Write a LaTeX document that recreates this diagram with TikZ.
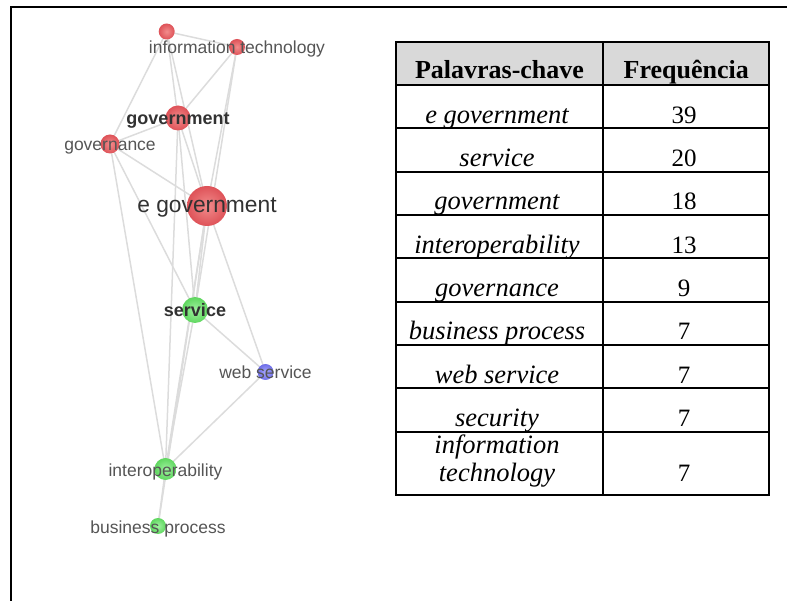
\documentclass[tikz,border=0pt]{standalone}
\usepackage{fontspec}
\setmainfont{Liberation Serif}
\setsansfont{Liberation Sans}
\usetikzlibrary{backgrounds}
\definecolor{edgec}{RGB}{220,220,220}
\definecolor{redin}{RGB}{242,140,140}
\definecolor{redout}{RGB}{222,82,88}
\definecolor{grnin}{RGB}{160,242,160}
\definecolor{grnout}{RGB}{95,215,95}
\definecolor{bluin}{RGB}{170,170,252}
\definecolor{bluout}{RGB}{110,110,232}
\definecolor{lblc}{RGB}{85,85,85}
\definecolor{lbldark}{RGB}{50,50,50}
\definecolor{hdrc}{RGB}{217,217,217}
\begin{document}
\begin{tikzpicture}[x=1pt,y=-1pt,
  vert/.style={circle, inner sep=0pt, minimum size=#1},
  rv/.style={vert=#1, inner color=redin, outer color=redout},
  gv/.style={vert=#1, inner color=grnin, outer color=grnout},
  bv/.style={vert=#1, inner color=bluin, outer color=bluout},
  lblbase/.style={inner sep=0pt, anchor=base, yshift=-7pt},
  lbl/.style={lblbase, text=lblc, font=\sffamily\fontsize{17.5}{20}\selectfont},
  lblb/.style={lblbase, text=lbldark, font=\sffamily\bfseries\fontsize{18}{21}\selectfont},
  lblbig/.style={lblbase, text=lbldark, font=\sffamily\fontsize{22.8}{26}\selectfont},
  edge/.style={draw=edgec, line width=1.5pt},
  cell/.style={anchor=base, inner sep=0pt, font=\fontsize{25}{30}\selectfont},
  kw/.style={cell, font=\fontsize{26.5}{30}\selectfont\itshape},
  hd/.style={anchor=base, inner sep=0pt, font=\fontsize{26}{30}\selectfont\bfseries},
  grid/.style={line width=1.8pt, black}
]
\useasboundingbox (0,0) rectangle (787,601);
% frame
\draw[line width=2.2pt] (787,7) -- (11,7) -- (11,601);

% graph vertices
\node[rv=16] (top) at (166.7,31.5) {};
\node[rv=16] (it) at (237,47) {};
\node[rv=25] (gov) at (178,118) {};
\node[rv=19] (gvnc) at (110,144) {};
\node[rv=40] (egov) at (207,206) {};
\node[gv=26] (serv) at (195,310) {};
\node[bv=16] (web) at (265.5,372) {};
\node[gv=22] (inter) at (165.5,469) {};
\node[gv=16] (bp) at (158,526) {};

\begin{scope}[on background layer]
\foreach \a/\b in {top/it, top/gvnc, top/gov, top/egov, it/gov, it/egov, it/serv,
  gvnc/gov, gvnc/egov, gvnc/serv, gvnc/inter, gov/egov, gov/serv, gov/inter,
  egov/serv, egov/inter, egov/web, serv/web, serv/inter, web/inter, inter/bp, egov/bp}
  \draw[edge] (\a.center) -- (\b.center);
\end{scope}

% labels
\node[lbl] (l-it) at (it.center) {information technology};
\node[lblb] (l-gov) at (gov.center) {government};
\node[lbl] (l-gvnc) at (gvnc.center) {governance};
\node[lblbig] (l-egov) at (egov.center) {e government};
\node[lblb] (l-serv) at (serv.center) {service};
\node[lbl] (l-web) at (web.center) {web service};
\node[lbl] (l-inter) at (inter.center) {interoperability};
\node[lbl] (l-bp) at (bp.center) {business process};

% table
\fill[hdrc] (395.7,42.3) rectangle (769,85);
\draw[grid] (395.7,42.3) rectangle (769,495);
\draw[grid] (603.3,42.3) -- (603.3,495);
\foreach \yy in {85,128.3,171.7,215,258.3,301.7,345,388.3,431.7}
  \draw[grid] (395.7,\yy) -- (769,\yy);

\node[hd] (h1) at (499.5,78.3) {Palavras-chave};
\node[hd] (h2) at (686.2,78.3) {Frequência};

\node[kw] (k1) at (497,123.3) {e government};
\node[cell] (f1) at (684,123.3) {39};
\node[kw] (k2) at (497,166.7) {service};
\node[cell] (f2) at (684,166.7) {20};
\node[kw] (k3) at (497,210) {government};
\node[cell] (f3) at (684,210) {18};
\node[kw] (k4) at (497,253.3) {interoperability};
\node[cell] (f4) at (684,253.3) {13};
\node[kw] (k5) at (497,296.7) {governance};
\node[cell] (f5) at (684,296.7) {9};
\node[kw] (k6) at (497,340) {business process};
\node[cell] (f6) at (684,340) {7};
\node[kw] (k7) at (497,383.3) {web service};
\node[cell] (f7) at (684,383.3) {7};
\node[kw] (k8) at (497,426.7) {security};
\node[cell] (f8) at (684,426.7) {7};
\node[kw] (k9a) at (497,453) {information};
\node[kw] (k9b) at (497,481) {technology};
\node[cell] (f9) at (684,481) {7};
\end{tikzpicture}
\end{document}
